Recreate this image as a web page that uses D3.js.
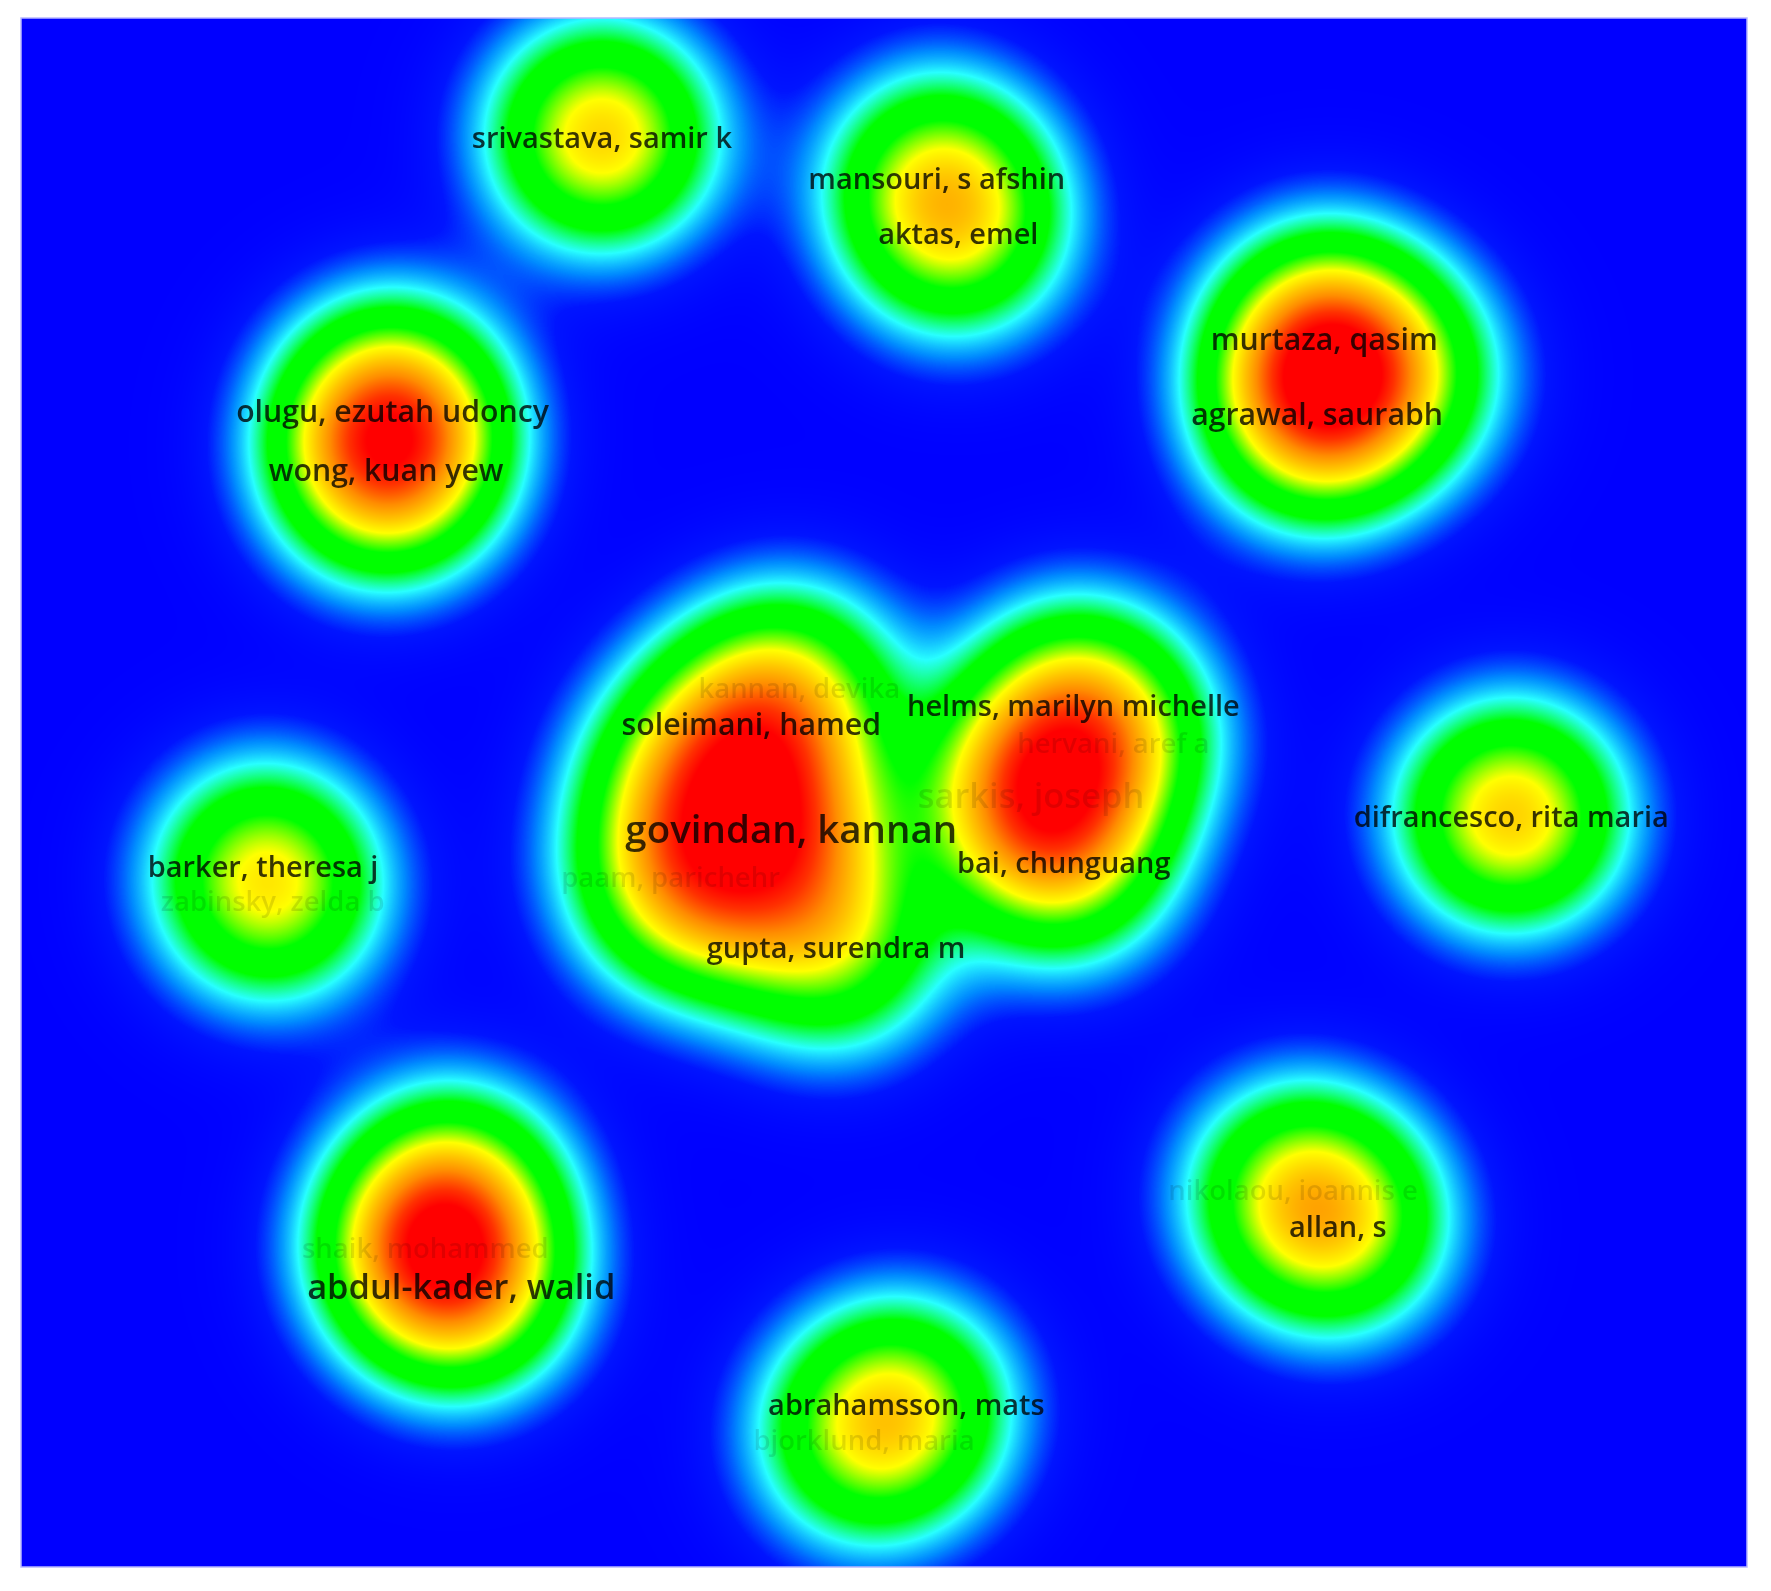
<!DOCTYPE html>
<html>
<head>
<meta charset="utf-8">
<script src="https://cdn.jsdelivr.net/npm/d3@7"></script>
<style>
  body { margin: 0; background: #fff; }
  #chart { position: relative; width: 1771px; height: 1591px; }
  #chart canvas, #chart svg { position: absolute; left: 0; top: 0; }
</style>
</head>
<body>
<div id="chart"></div>
<script>
// author map (VOSviewer style coordinates)
const authors = [
  "srivastava, samir k", "mansouri, s afshin", "aktas, emel",
  "murtaza, qasim", "agrawal, saurabh", "olugu, ezutah udoncy", "wong, kuan yew",
  "soleimani, hamed", "kannan, devika", "helms, marilyn michelle", "hervani, aref a",
  "sarkis, joseph", "govindan, kannan", "bai, chunguang", "paam, parichehr",
  "gupta, surendra m", "barker, theresa j", "zabinsky, zelda b",
  "difrancesco, rita maria", "shaik, mohammed", "abdul-kader, walid",
  "nikolaou, ioannis e", "allan, s", "abrahamsson, mats", "bjorklund, maria"
]
const mapX = [-0.353, 0.066, 0.093, 0.551, 0.542, -0.615, -0.623, -0.166, -0.106, 0.237, 0.287,
  0.184, -0.116, 0.225, -0.267, -0.060, -0.777, -0.765, 0.785, -0.574, -0.529, 0.512, 0.568, 0.028, -0.025]
const mapY = [0.822, 0.770, 0.701, 0.568, 0.475, 0.479, 0.404, 0.086, 0.132, 0.110, 0.063,
  -0.002, -0.044, -0.086, -0.105, -0.193, -0.091, -0.135, -0.029, -0.570, -0.617, -0.497, -0.542, -0.765, -0.810]
const documents = [4, 4, 4, 5, 5, 5, 5, 5, 3, 4, 3, 9, 14, 4, 3, 4, 4, 3, 4, 3, 9, 3, 4, 4, 3]
const weight = [5.7, 3.6, 3.4, 5.8, 5.8, 5.5, 5.5, 3.7, 2.8, 3.6, 2.8, 5.6, 5.0, 3.6, 3.3, 3.7, 2.9, 2.7, 5.8, 4.6, 4.6, 3.3, 4.0, 3.3, 3.3]
// labels drawn faded (overlapping ones)
const fadedLabels = ["kannan, devika", "hervani, aref a", "sarkis, joseph", "paam, parichehr",
  "zabinsky, zelda b", "shaik, mohammed", "nikolaou, ioannis e", "bjorklund, maria"]
// items whose labels are hidden entirely
const hiddenX = [-0.243, -0.205, -0.537, 0.646]
const hiddenY = [0.016, -0.135, -0.498, 0.522]
const hiddenWeight = [3.7, 2.8, 3.6, 2.6]

const W = 1771, H = 1591
const plot = {x0: 21, y0: 18, x1: 1747, y1: 1567}
const bandwidth = 0.09
const maxDensity = 10

const xScale = d3.scaleLinear().domain([-1.08, 1.08]).range([plot.x0, plot.x1])
const yScale = d3.scaleLinear().domain([0.97, -0.97]).range([plot.y0, plot.y1])

const items = authors.map((a, i) => ({name: a, x: mapX[i], y: mapY[i], w: weight[i], docs: documents[i]}))
  .concat(hiddenX.map((x, i) => ({name: null, x: x, y: hiddenY[i], w: hiddenWeight[i]})))

const color = d3.scaleLinear()
  .domain([0, 0.04, 0.09, 0.15, 0.24, 0.36, 0.5, 0.6, 0.72, 0.86, 0.96, 1])
  .range(["#0000ff", "#0014ff", "#008cff", "#28ffff", "#00ff00", "#00ff00", "#ffff00",
          "#ffc800", "#ff8c00", "#ff3200", "#ff0000", "#ff0000"])
  .clamp(true)

// lookup table so we don't call the scale per pixel
const lut = d3.range(1025).map(i => d3.rgb(color(i / 1024)))

const canvas = d3.select("#chart").append("canvas").attr("width", W).attr("height", H).node()
const ctx = canvas.getContext("2d")
ctx.fillStyle = "#fff"
ctx.fillRect(0, 0, W, H)

const pw = plot.x1 - plot.x0, ph = plot.y1 - plot.y0
const img = ctx.createImageData(pw, ph)
const twoS2 = 2 * bandwidth * bandwidth

for (let j = 0; j < ph; j++) {
  const my = yScale.invert(plot.y0 + j + 0.5)
  for (let i = 0; i < pw; i++) {
    const mx = xScale.invert(plot.x0 + i + 0.5)
    let dens = 0
    for (let k = 0; k < items.length; k++) {
      const dx = mx - items[k].x, dy = my - items[k].y
      const d2 = dx * dx + dy * dy
      if (d2 < 0.2) dens += items[k].w * Math.exp(-d2 / twoS2)
    }
    const c = lut[Math.min(1024, Math.round(dens / maxDensity * 1024))]
    const o = (j * pw + i) * 4
    img.data[o] = c.r; img.data[o + 1] = c.g; img.data[o + 2] = c.b; img.data[o + 3] = 255
  }
}
ctx.putImageData(img, plot.x0, plot.y0)

const svg = d3.select("#chart").append("svg").attr("width", W).attr("height", H)

svg.append("rect")
  .attr("x", plot.x0).attr("y", plot.y0)
  .attr("width", pw).attr("height", ph)
  .attr("fill", "none").attr("stroke", "#b8b8ff").attr("stroke-width", 1.5)

const fontSize = d3.scaleSqrt().domain([3, 14]).range([27.5, 38.5])

svg.append("g")
  .style("filter", "blur(0.6px)")
  .selectAll("text")
  .data(items.filter(d => d.name))
  .join("text")
    .attr("x", d => xScale(d.x))
    .attr("y", d => yScale(d.y))
    .attr("text-anchor", "middle")
    .attr("dominant-baseline", "central")
    .attr("font-family", "'Open Sans', sans-serif")
    .attr("font-weight", 600)
    .attr("font-size", d => fontSize(d.docs))
    .attr("fill", "#000")
    .attr("fill-opacity", d => fadedLabels.includes(d.name) ? 0.12 : 0.78)
    .text(d => d.name)
</script>
</body>
</html>
